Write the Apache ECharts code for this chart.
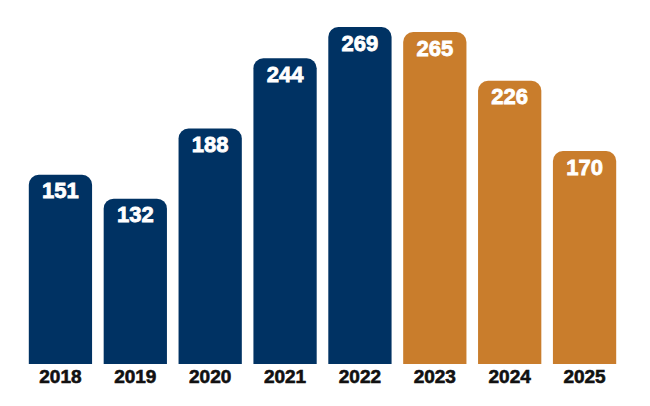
<!DOCTYPE html>
<html>
<head>
<meta charset="utf-8">
<script src="https://cdn.jsdelivr.net/npm/echarts@6/dist/echarts.min.js"></script>
<style>
  html, body { margin: 0; padding: 0; background: #fff; }
  #chart { width: 650px; height: 406px; }
</style>
</head>
<body>
<div id="chart"></div>
<script>
const years = ['2018', '2019', '2020', '2021', '2022', '2023', '2024', '2025'];
const counts = [151, 132, 188, 244, 269, 265, 226, 170];
const navyYears = ['2018', '2019', '2020', '2021', '2022'];

const NAVY = '#003263';
const ORANGE = '#C97D2C';

const chart = echarts.init(document.getElementById('chart'), null, { renderer: 'svg' });

chart.setOption({
    animation: false,
    grid: { left: 23, right: 28, top: 27, bottom: 42 },
    xAxis: {
        type: 'category',
        data: years,
        axisLine: { show: false },
        axisTick: { show: false },
        axisLabel: {
            color: '#111',
            fontFamily: 'Liberation Sans',
            fontWeight: 'bold',
            fontSize: 19,
            textBorderColor: '#111',
            textBorderWidth: 0.6,
            margin: 3
        }
    },
    yAxis: {
        type: 'value',
        min: 0,
        max: 269,
        show: false,
        splitLine: { show: false }
    },
    series: [{
        type: 'bar',
        barCategoryGap: '15.5%',
        data: counts.map((v, i) => ({
            value: v,
            itemStyle: { color: navyYears.includes(years[i]) ? NAVY : ORANGE }
        })),
        itemStyle: { borderRadius: [10, 10, 0, 0] },
        label: {
            show: true,
            position: 'insideTop',
            distance: 5,
            color: '#fff',
            fontFamily: 'Liberation Sans',
            fontWeight: 'bold',
            fontSize: 22,
            textBorderColor: '#fff',
            textBorderWidth: 0.8
        }
    }]
});
</script>
</body>
</html>
